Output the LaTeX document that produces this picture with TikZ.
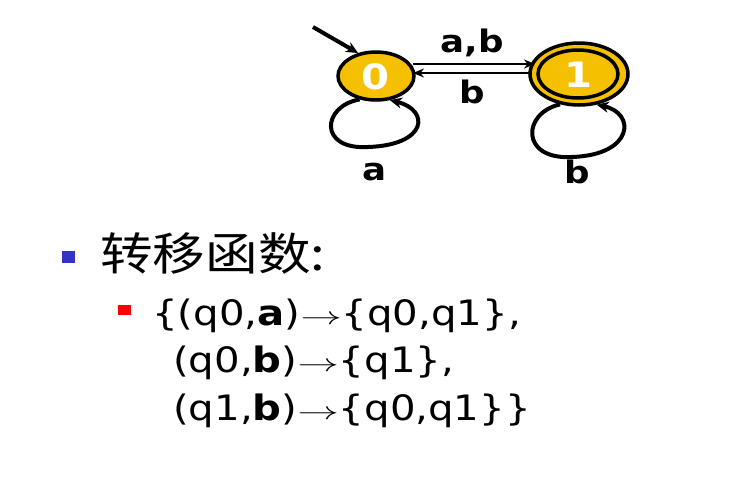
\documentclass[tikz,border=0pt]{standalone}
\usepackage{fontspec}
\usepackage{graphicx}
\setmainfont{DejaVu Sans}
\newfontfamily\cjk{Noto Sans CJK SC}
\usetikzlibrary{arrows.meta,shapes.geometric}
\definecolor{stategold}{HTML}{F5C000}
\definecolor{bulletblue}{HTML}{3333CC}
\definecolor{bulletred}{HTML}{FF0000}
\newcommand{\wide}[1]{\scalebox{1.15}[1]{#1}}
\newcommand{\maparrow}{\raisebox{1.5pt}{\scalebox{1.45}[1]{$\rightarrow$}}}
\tikzset{
  statebox/.style={ellipse,draw=black,line width=3.5pt,fill=stategold,inner sep=0pt},
  edge/.style={draw=black,line width=4pt,-{Stealth[length=12pt,width=11pt]}},
  thinedge/.style={draw=black,line width=2.4pt,-{Stealth[length=11pt,width=9pt]}},
  lab/.style={font=\fontsize{31}{33}\selectfont\bfseries},
  digit/.style={font=\fontsize{35}{37}\selectfont\bfseries,text=white},
  fn/.style={font=\fontsize{35}{38}\selectfont,anchor=west,inner sep=0pt},
}
\begin{document}
\begin{tikzpicture}[x=1pt,y=-1pt]
\useasboundingbox[fill=white] (0,0) rectangle (745,480);
% states
\node[statebox,minimum width=76pt,minimum height=48pt] (s0) at (376,76) {};
\node[digit] (t0) at (375,77) {\wide{0}};
\node[statebox,minimum width=98pt,minimum height=62pt] (s1o) at (579,74) {};
\node[statebox,minimum width=80pt,minimum height=48pt] (s1) at (578,74) {};
\node[digit] (t1) at (578,75) {\wide{1}};
% initial arrow
\coordinate (init) at (313,27);
\draw[edge] (init) -- (s0.128);
% transitions between states
\coordinate (a0) at (413,64);
\coordinate (a1) at (535,64);
\coordinate (b1) at (531,73);
\coordinate (b0) at (413,73);
\draw[thinedge] (a0) -- (a1);
\draw[thinedge] (b1) -- (b0);
\node[lab] (lab1) at (472,43) {\wide{a,b}};
\node[lab] (lab2) at (472,92) {\wide{b}};
% loops
\draw[edge] (s0.235) .. controls (322,106) and (318,150) .. (368,147)
  .. controls (428,145) and (430,110) .. (s0.300);
\node[lab] (lab3) at (375,172) {\wide{a}};
\draw[edge] (s1o.238) .. controls (522,113) and (520,160) .. (572,157)
  .. controls (634,155) and (636,113) .. (s1o.300);
\node[lab] (lab4) at (577,172) {\wide{b}};
% text
\node[fill=bulletblue,minimum width=13pt,minimum height=12pt,inner sep=0pt] (bb) at (68,257) {};
\node[fn,font=\fontsize{45}{48}\selectfont\cjk] (title) at (100,253) {\scalebox{1.17}[1]{转移函数:}};
\node[fill=bulletred,minimum width=13pt,minimum height=10pt,inner sep=0pt] (rb) at (124,310) {};
\node[fn] (l1) at (152,316) {\wide{\{(q0,\textbf{a})\maparrow\{q0,q1\},}};
\node[fn] (l2) at (173,363) {\wide{(q0,\textbf{b})\maparrow\{q1\},}};
\node[fn] (l3) at (173,411) {\wide{(q1,\textbf{b})\maparrow\{q0,q1\}\}}};
\end{tikzpicture}
\end{document}
